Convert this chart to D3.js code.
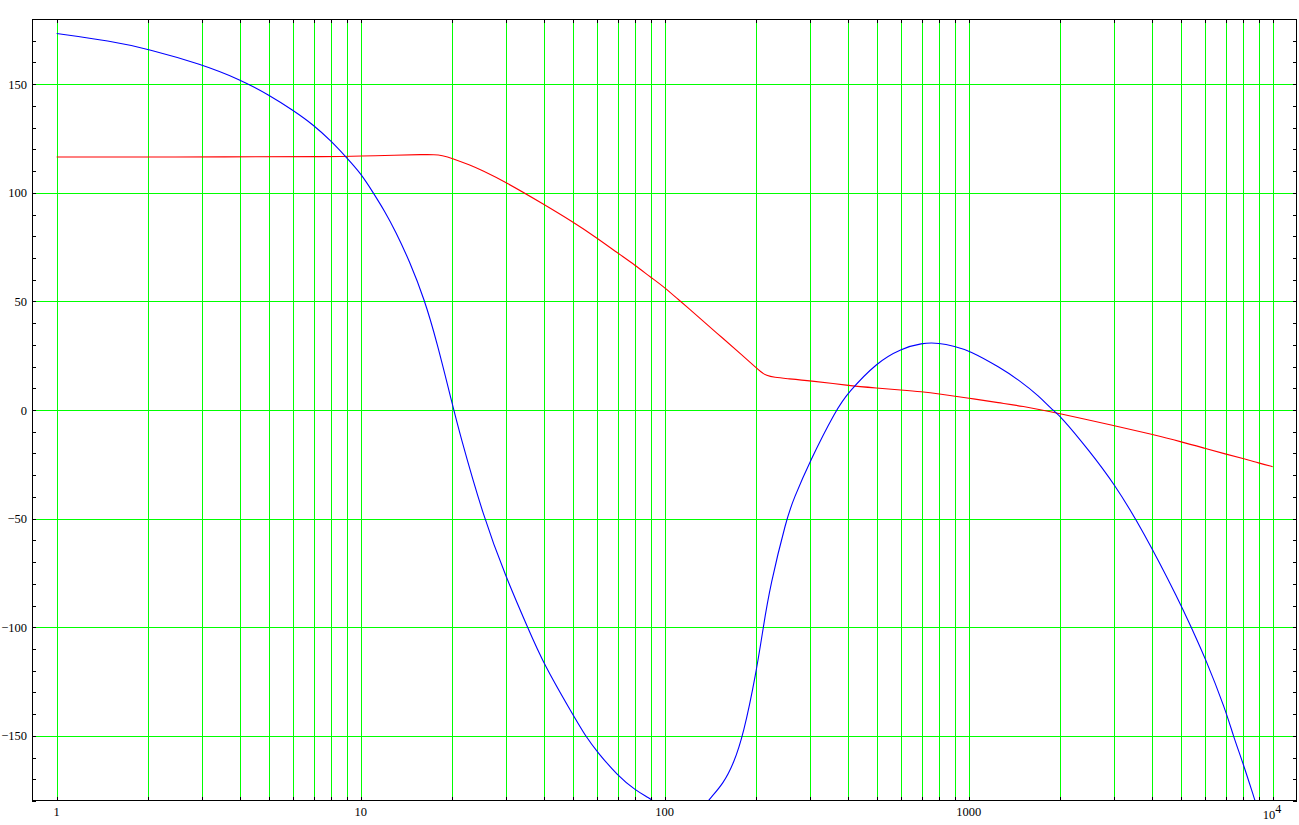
<!DOCTYPE html>
<html>
<head>
<meta charset="utf-8">
<script src="https://cdn.jsdelivr.net/npm/d3@7"></script>
<style>
  html, body { margin: 0; padding: 0; background: #fff; }
  svg { display: block; }
  .lbl { font-family: "Liberation Serif", "Times New Roman", serif; font-size: 12.5px; fill: #000; }
</style>
</head>
<body>
<svg id="chart" width="1299" height="825"></svg>
<script>
// ---- data ----
const redX = [1, 4, 8, 10, 13, 16, 17.5, 18.5, 20, 22.9, 25, 30, 40, 50, 60, 70, 80, 90, 100, 111, 121, 130, 156, 180, 200, 207, 216, 230, 250, 300, 400, 500, 600, 700, 800, 1000, 1268, 1475, 2000, 3000, 4000, 5000, 6000, 7000, 8000, 9000, 10000];
const redY = [116.5, 116.5, 116.6, 116.9, 117.3, 117.6, 117.6, 117.2, 115.9, 112.7, 110.4, 104.9, 94.7, 86.5, 79.1, 72.3, 66.6, 61.1, 56.4, 50.8, 46.3, 42.4, 32.8, 25.2, 19.4, 17.6, 15.8, 15.0, 14.5, 13.5, 11.3, 10.1, 9.2, 8.4, 7.4, 5.5, 3.2, 2.0, -1.7, -7.1, -11.2, -14.6, -17.7, -20.3, -22.3, -24.4, -26.1];

const blueX = [1, 1.5, 2, 3, 4, 5, 6, 7, 8, 9, 10, 11, 12, 13, 14.5, 16.2, 17.8, 20, 21, 25.4, 30, 35.4, 40, 50, 55, 60, 70, 80, 89.3, 92,
               110,
               138, 141, 156, 168.6, 181.4, 200, 211, 222, 252, 265, 300, 366, 400, 500, 600, 700, 800, 900, 1000, 1268, 1475, 1700, 1880, 2000, 2500, 3000, 3735, 4955, 5413, 6000, 7000, 7420, 8000, 8750, 9000];
const blueY = [173.3, 169.9, 166.2, 159.1, 152.2, 145.0, 137.9, 131.2, 123.8, 116.1, 109.0, 100.0, 91.5, 82.5, 68.3, 51.0, 31.5, 3.0, -9.1, -49.8, -76.7, -100.0, -117.0, -140.5, -150.3, -157.4, -168.3, -175.0, -178.8, -180.3,
               null,
               -180.6, -178.8, -171.9, -162.7, -149.6, -121.0, -100.0, -81.3, -49.8, -41.3, -23.7, 0.0, 7.8, 22.1, 28.2, 30.9, 30.9, 29.3, 27.5, 19.6, 13.4, 6.5, 0.2, -2.6, -19.0, -33.6, -55.2, -88.6, -100.5, -114.1, -138.1, -150.1, -162.8, -180.0, -185.0];

const xGridTicks = [];
[1, 10, 100, 1000].forEach(d => { for (let k = 1; k <= 9; k++) xGridTicks.push(k * d); });
xGridTicks.push(10000);
const xLabelTicks = [1, 10, 100, 1000, 10000];
const xLabelText = ["1", "10", "100", "1000", "10^4"];

const yGridTicks = [-150, -100, -50, 0, 50, 100, 150];
const yLabelText = ["\u2212150", "\u2212100", "\u221250", "0", "50", "100", "150"];
const yMinorTicks = d3.range(-180, 181, 10);

const X_DOMAIN = [0.8295, 12021];
const Y_DOMAIN = [-180, 180];

// ---- layout ----
const L = 32, R = 1297, T = 19, B = 801;
const svg = d3.select("#chart");
const x = d3.scaleLog().domain(X_DOMAIN).range([L, R]);
const y = d3.scaleLinear().domain(Y_DOMAIN).range([B, T]);
const GREEN = "#00ff00";
const TICK = 4;

const grid = svg.append("g").attr("shape-rendering", "crispEdges");
grid.selectAll("line.vg").data(xGridTicks).enter().append("line")
  .attr("x1", d => Math.round(x(d)) + 0.5).attr("x2", d => Math.round(x(d)) + 0.5)
  .attr("y1", T).attr("y2", B)
  .attr("stroke", GREEN).attr("stroke-width", 1);
grid.selectAll("line.hg").data(yGridTicks).enter().append("line")
  .attr("y1", d => Math.round(y(d)) + 0.5).attr("y2", d => Math.round(y(d)) + 0.5)
  .attr("x1", L).attr("x2", R)
  .attr("stroke", GREEN).attr("stroke-width", 1);

// curves
svg.append("defs").append("clipPath").attr("id", "clip")
  .append("rect").attr("x", L).attr("y", T).attr("width", R - L).attr("height", B - T);

function series(xs, ys) { return xs.map((v, i) => [v, ys[i]]); }
const line = d3.line()
  .defined(d => d[1] !== null)
  .x(d => x(d[0])).y(d => y(d[1]))
  .curve(d3.curveBasis);

const curves = svg.append("g").attr("clip-path", "url(#clip)");
curves.append("path").datum(series(redX, redY))
  .attr("d", line).attr("fill", "none").attr("stroke", "#ff0000").attr("stroke-width", 1.1);
curves.append("path").datum(series(blueX, blueY))
  .attr("d", line).attr("fill", "none").attr("stroke", "#0000ff").attr("stroke-width", 1.1);

// ticks
const tk = svg.append("g").attr("shape-rendering", "crispEdges").attr("stroke", "#000").attr("stroke-width", 1);
xGridTicks.forEach(d => {
  const px = Math.round(x(d)) + 0.5;
  tk.append("line").attr("x1", px).attr("x2", px).attr("y1", T).attr("y2", T + TICK);
  tk.append("line").attr("x1", px).attr("x2", px).attr("y1", B - TICK).attr("y2", B);
});
yMinorTicks.forEach(d => {
  const py = Math.round(y(d)) + 0.5;
  tk.append("line").attr("y1", py).attr("y2", py).attr("x1", L).attr("x2", L + TICK);
  tk.append("line").attr("y1", py).attr("y2", py).attr("x1", R - TICK).attr("x2", R);
});
// frame
svg.append("rect").attr("x", L + 0.5).attr("y", T + 0.5).attr("width", R - L - 1).attr("height", B - T - 1)
  .attr("fill", "none").attr("stroke", "#000").attr("stroke-width", 1).attr("shape-rendering", "crispEdges");

// labels
svg.selectAll("text.yl").data(yGridTicks).enter().append("text")
  .attr("class", "lbl").attr("x", 27).attr("y", d => y(d) + 4.5)
  .attr("text-anchor", "end").text((d, i) => yLabelText[i]);

xLabelTicks.forEach((d, i) => {
  const t = xLabelText[i];
  if (t.indexOf("^") >= 0) {
    const parts = t.split("^");
    const tx = svg.append("text").attr("class", "lbl").attr("x", x(d) - 10).attr("y", 819);
    tx.append("tspan").text(parts[0]);
    tx.append("tspan").attr("dy", -6).attr("font-size", "12px").text(parts[1]);
  } else {
    svg.append("text").attr("class", "lbl").attr("x", x(d)).attr("y", 816)
      .attr("text-anchor", "middle").text(t);
  }
});
</script>
</body>
</html>
